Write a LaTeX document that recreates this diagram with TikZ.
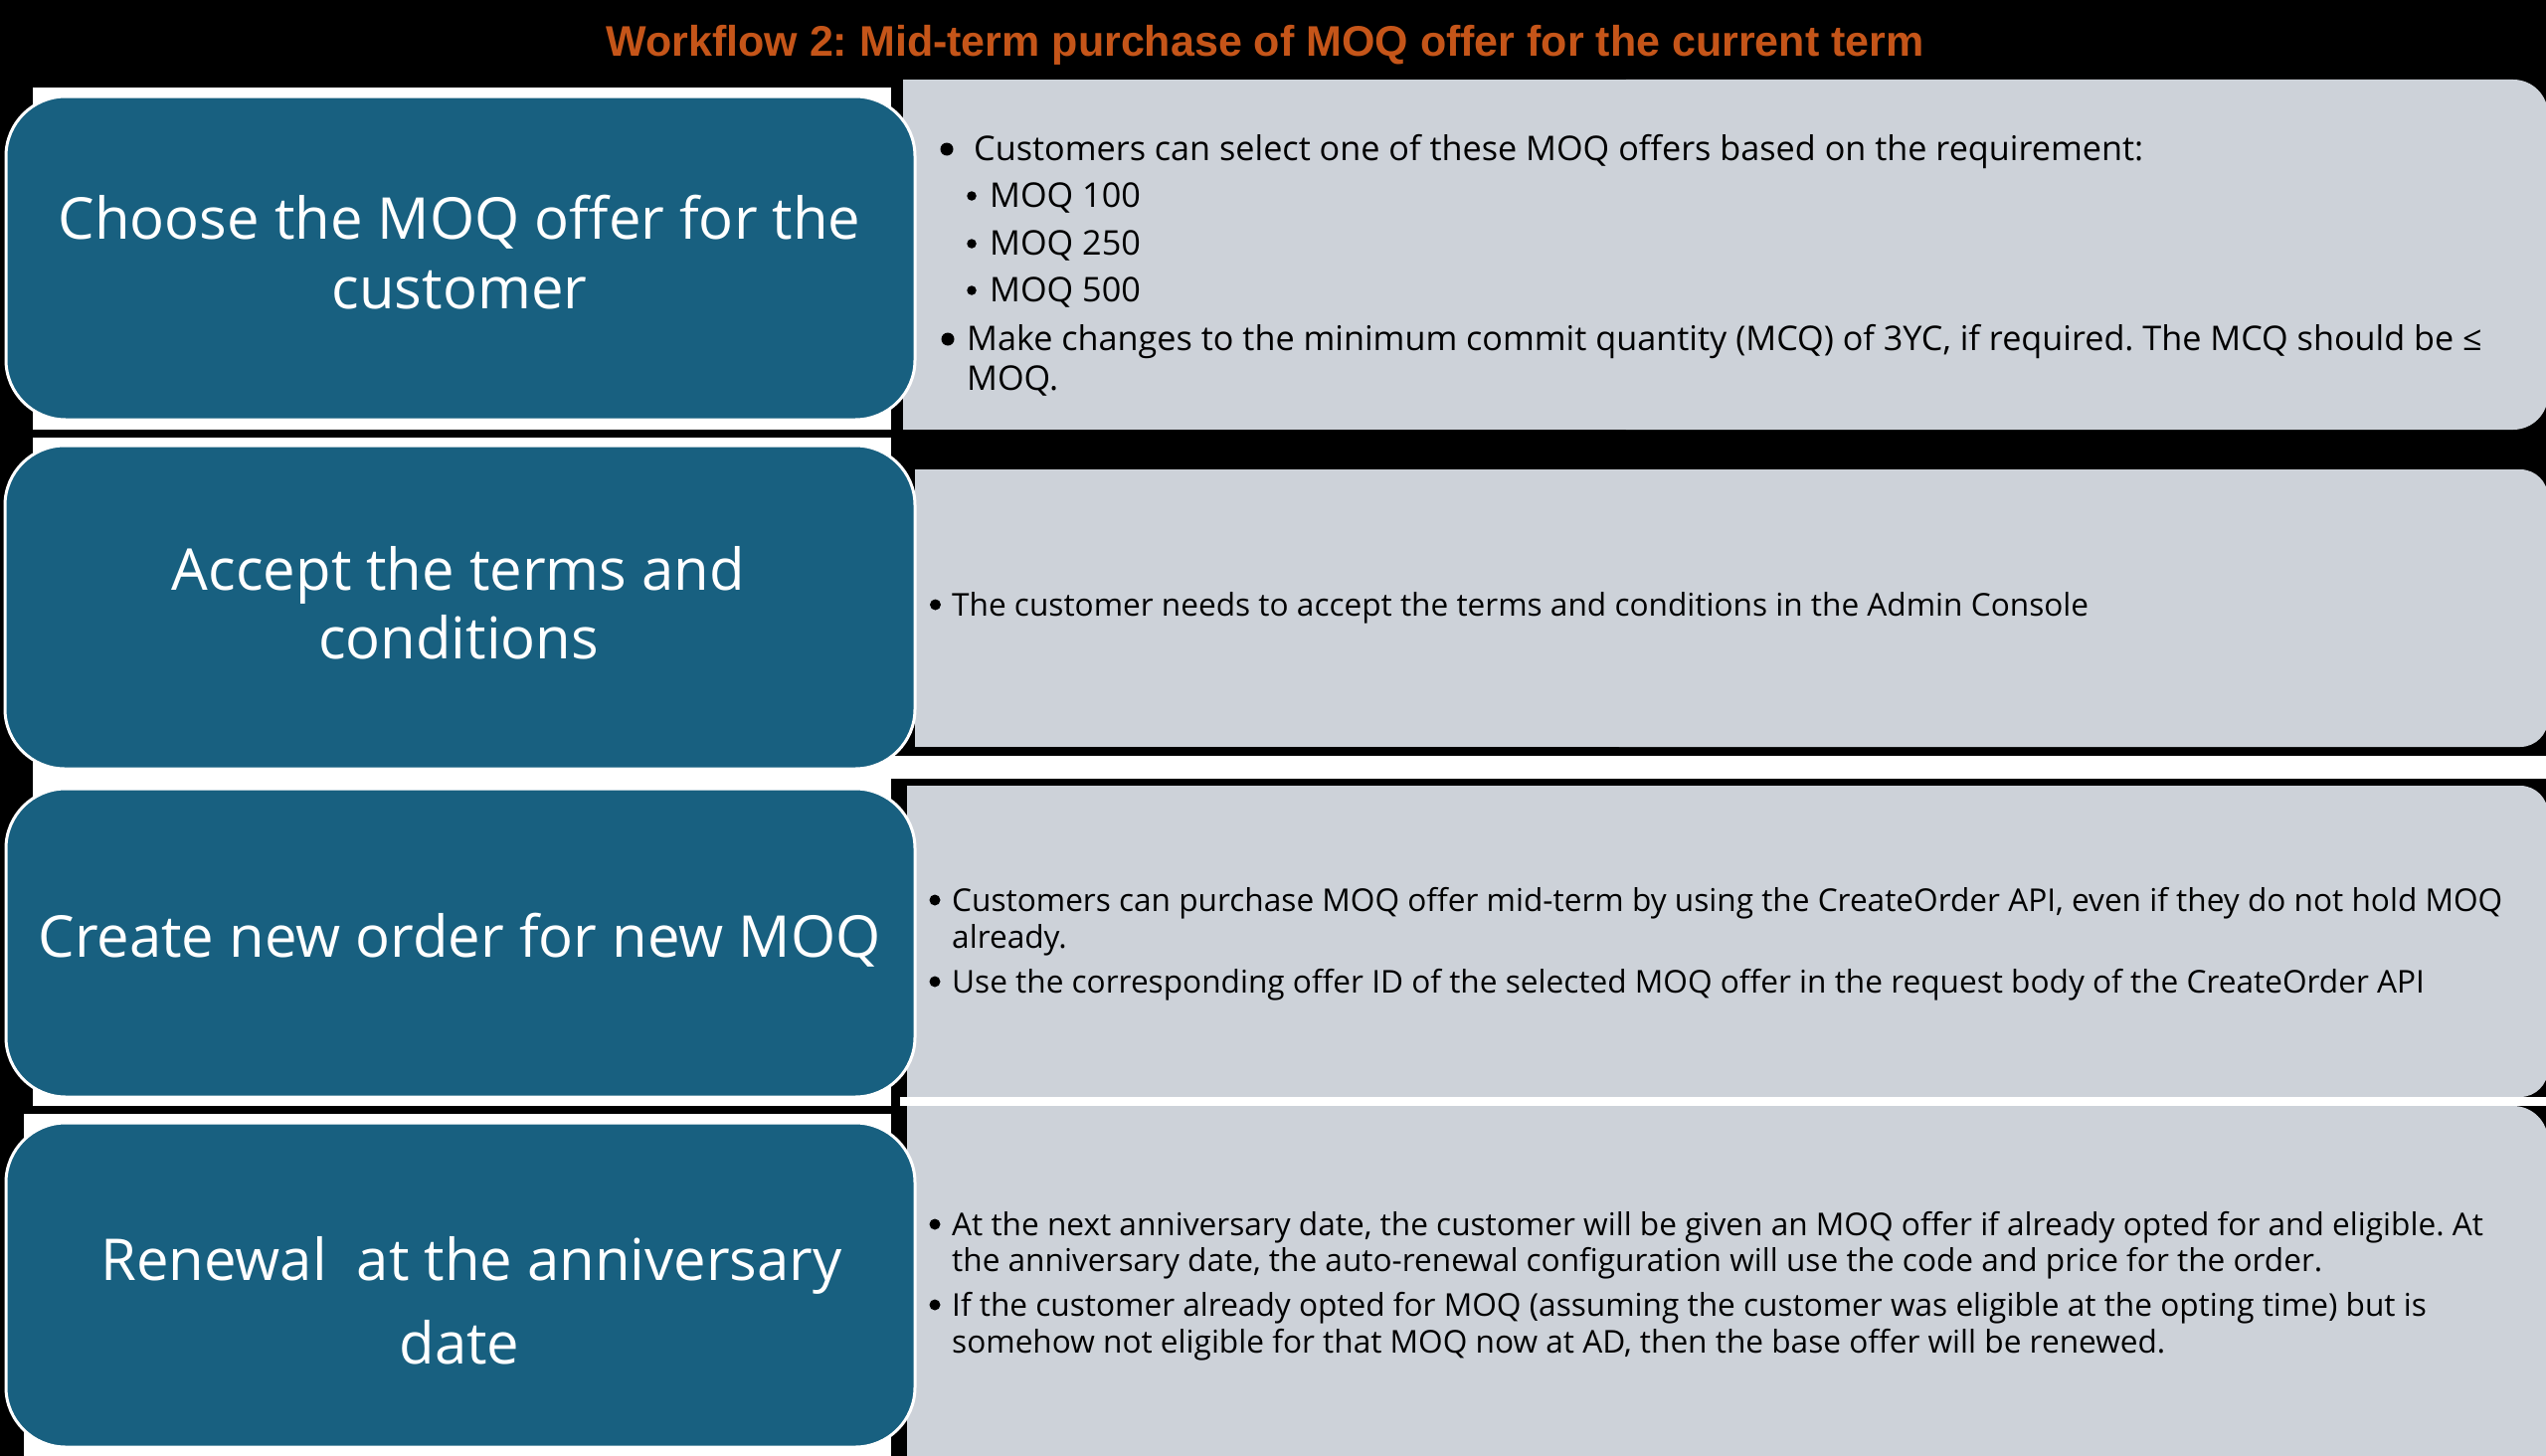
\documentclass[tikz,border=0pt]{standalone}
\usepackage{fontspec}
\setmainfont{Open Sans}
\newfontfamily\titlefont{Liberation Sans}
\definecolor{stepblue}{RGB}{24,96,128}
\definecolor{panelgray}{RGB}{205,210,217}
\definecolor{titleorange}{RGB}{197,85,25}
\frenchspacing
\begin{document}
\frenchspacing
\begin{tikzpicture}[x=1pt,y=-1pt,
  stepbox/.style={fill=stepblue, draw=white, line width=3pt, rounded corners=60pt, inner sep=0pt},
  whiteback/.style={fill=white},
  panel/.style={fill=panelgray},
  steptext/.style={text=white, anchor=base, inner sep=0pt, font=\fontsize{58}{70}\selectfont},
  itemtext/.style={anchor=base west, inner sep=0pt, text=black, font=\fontsize{31.6}{40}\selectfont},
  bigitemtext/.style={anchor=base west, inner sep=0pt, text=black, font=\fontsize{34.2}{42}\selectfont},
  dot/.style={circle, fill=black, inner sep=0pt, minimum size=11pt},
  bigdot/.style={circle, fill=black, inner sep=0pt, minimum size=13pt},
  smalldot/.style={circle, fill=black, inner sep=0pt, minimum size=9.5pt},
]
\useasboundingbox (0,0) rectangle (2560,1464);
\fill[black] (0,0) rectangle (2560,1464);

% title
\node[anchor=base, inner sep=0pt, text=titleorange, font=\titlefont\bfseries\fontsize{43}{50}\selectfont] (title) at (1272,57) {Workflow 2: Mid-term purchase of MOQ offer for the current term};

% gray panels
\fill[panel, rounded corners=35pt] (1600,80) rectangle (2562,432);
\fill[panel] (908,80) rectangle (1700,432);
\fill[panel, rounded corners=28pt] (1600,472) rectangle (2562,751);
\fill[panel] (920,472) rectangle (1700,751);
\fill[panel, rounded corners=28pt] (1600,790) rectangle (2562,1103);
\fill[panel] (912,790) rectangle (1700,1103);
\fill[panel, rounded corners=35pt] (1600,1112) rectangle (2562,1490);
\fill[panel] (912,1112) rectangle (1700,1490);
\fill[white] (890,760) rectangle (2560,783);
\fill[white] (905,1103) rectangle (2560,1112);

% white backs of step boxes
\fill[whiteback] (33,88) rectangle (896,432);
\fill[whiteback] (33,440) rectangle (896,783);
\fill[whiteback] (33,783) rectangle (896,1112);
\fill[whiteback] (24,1120) rectangle (896,1464);

% step boxes
\node[stepbox, minimum width=914pt, minimum height=325pt] (s1) at (463,259.5) {};
\node[stepbox, minimum width=915pt, minimum height=325pt] (s2) at (462.5,610.5) {};
\node[stepbox, minimum width=914pt, minimum height=310pt] (s3) at (463,948) {};
\node[stepbox, minimum width=914pt, minimum height=326pt] (s4) at (463,1292) {};

\node[steptext] (t1a) at (462,240) {Choose the MOQ offer for the};
\node[steptext] (t1b) at (462,310) {customer};
\node[steptext] (t2a) at (461,593) {Accept the terms and};
\node[steptext] (t2b) at (461,662) {conditions};
\node[steptext] (t3) at (462,962) {Create new order for new MOQ};
\node[steptext] (t4a) at (474,1287) {Renewal\ \ at the anniversary};
\node[steptext] (t4b) at (462,1371) {date};

% panel 1
\node[bigdot] (b11) at (952,150) {};
\node[bigitemtext] (i11) at (979,161) {Customers can select one of these MOQ offers based on the requirement:};
\node[smalldot] (b12) at (977,197) {};
\node[bigitemtext] (i12) at (995,208) {MOQ 100};
\node[smalldot] (b13) at (977,245) {};
\node[bigitemtext] (i13) at (995,256) {MOQ 250};
\node[smalldot] (b14) at (977,292) {};
\node[bigitemtext] (i14) at (995,303) {MOQ 500};
\node[bigdot] (b15) at (953,341) {};
\node[bigitemtext] (i15) at (972,352) {Make changes to the minimum commit quantity (MCQ) of 3YC, if required. The MCQ should be ≤};
\node[bigitemtext] (i16) at (972,392) {MOQ.};

% panel 2
\node[dot] (b21) at (940.5,608) {};
\node[itemtext] (i21) at (957,619) {The customer needs to accept the terms and conditions in the Admin Console};

% panel 3
\node[dot] (b31) at (940,905) {};
\node[itemtext] (i31) at (957,916) {Customers can purchase MOQ offer mid-term by using the CreateOrder API, even if they do not hold MOQ};
\node[itemtext] (i32) at (957,953) {already.};
\node[dot] (b33) at (940,987) {};
\node[itemtext] (i33) at (957,998) {Use the corresponding offer ID of the selected MOQ offer in the request body of the CreateOrder API};

% panel 4
\node[dot] (b41) at (940,1231) {};
\node[itemtext] (i41) at (957,1242) {At the next anniversary date, the customer will be given an MOQ offer if already opted for and eligible. At};
\node[itemtext] (i42) at (957,1278) {the anniversary date, the auto-renewal configuration will use the code and price for the order.};
\node[dot] (b43) at (940,1312) {};
\node[itemtext] (i43) at (957,1323) {If the customer already opted for MOQ (assuming the customer was eligible at the opting time) but is};
\node[itemtext] (i44) at (957,1360) {somehow not eligible for that MOQ now at AD, then the base offer will be renewed.};
\end{tikzpicture}
\end{document}
